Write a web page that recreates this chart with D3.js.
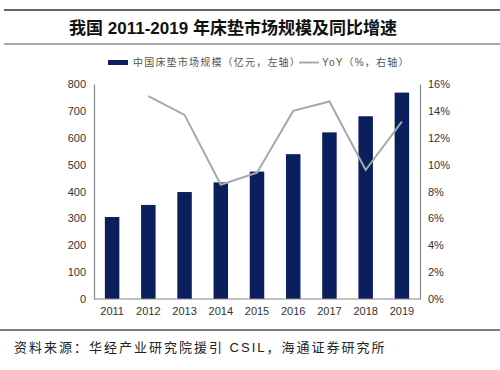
<!DOCTYPE html>
<html>
<head>
<meta charset="utf-8">
<script src="https://cdn.jsdelivr.net/npm/d3@7"></script>
<style>
  body { margin: 0; background: #fff; }
  svg { display: block; }
</style>
</head>
<body>
<div id="chart"></div>
<script>
const years = ["2011", "2012", "2013", "2014", "2015", "2016", "2017", "2018", "2019"];
const marketSize = [305, 350, 398, 434, 474, 539, 620, 680, 768];
const yoy = [null, 15.1, 13.7, 8.5, 9.4, 14.0, 14.7, 9.6, 13.2];
const leftTicks = [0, 100, 200, 300, 400, 500, 600, 700, 800];
const rightTicks = [0, 2, 4, 6, 8, 10, 12, 14, 16];

const width = 500;
const height = 370;
const plot = { left: 94, right: 420, top: 84, bottom: 299 };
const sansFont = "'Liberation Sans', Arial, sans-serif";
const mixFont = "'Liberation Sans', 'Noto Sans CJK SC', sans-serif";

const svg = d3.select("#chart")
  .append("svg")
  .attr("width", width)
  .attr("height", height);

// title block
svg.append("line")
  .attr("x1", 4).attr("x2", width).attr("y1", 10).attr("y2", 10)
  .attr("stroke", "#333").attr("stroke-width", 1.5);
svg.append("line")
  .attr("x1", 4).attr("x2", width).attr("y1", 44).attr("y2", 44)
  .attr("stroke", "#555").attr("stroke-width", 1.2);
svg.append("text")
  .attr("x", 233)
  .attr("y", 34)
  .attr("text-anchor", "middle")
  .style("font-family", mixFont)
  .style("font-size", "17px")
  .style("font-weight", "bold")
  .attr("fill", "#111")
  .text("我国 2011-2019 年床垫市场规模及同比增速");

const xScale = d3.scaleBand()
  .domain(years)
  .range([plot.left, plot.right])
  .paddingInner(0.6)
  .paddingOuter(0.3);

const yLeft = d3.scaleLinear()
  .domain([0, 800])
  .range([plot.bottom, plot.top]);

const yRight = d3.scaleLinear()
  .domain([0, 16])
  .range([plot.bottom, plot.top]);

// bars
svg.selectAll(".bar")
  .data(years)
  .enter()
  .append("rect")
  .attr("class", "bar")
  .attr("x", d => xScale(d))
  .attr("y", (d, i) => yLeft(marketSize[i]))
  .attr("width", xScale.bandwidth())
  .attr("height", (d, i) => plot.bottom - yLeft(marketSize[i]))
  .attr("fill", "#0b1f5e");

// yoy line
const line = d3.line()
  .defined(d => d.v != null)
  .x(d => xScale(d.year) + xScale.bandwidth() / 2)
  .y(d => yRight(d.v));

svg.append("path")
  .datum(years.map((y, i) => ({ year: y, v: yoy[i] })))
  .attr("d", line)
  .attr("fill", "none")
  .attr("stroke", "#a8a8a8")
  .attr("stroke-width", 2);

// axes
const leftAxis = svg.append("g")
  .attr("transform", `translate(${plot.left},0)`)
  .call(d3.axisLeft(yLeft).tickValues(leftTicks).tickSize(0).tickPadding(8));
const rightAxis = svg.append("g")
  .attr("transform", `translate(${plot.right},0)`)
  .call(d3.axisRight(yRight).tickValues(rightTicks).tickSize(0).tickPadding(8)
    .tickFormat(d => d + "%"));
const bottomAxis = svg.append("g")
  .attr("transform", `translate(0,${plot.bottom})`)
  .call(d3.axisBottom(xScale).tickSize(0).tickPadding(8));

[leftAxis, rightAxis, bottomAxis].forEach(g => {
  g.select(".domain").attr("stroke", "#888").attr("stroke-width", 1.2);
  g.selectAll("text")
    .style("font-family", sansFont)
    .style("font-size", "11px")
    .attr("fill", "#333");
});
bottomAxis.select(".domain").attr("d", `M${plot.left},0H${plot.right}`);

// legend
const legend = svg.append("g");
legend.append("rect")
  .attr("x", 108).attr("y", 60).attr("width", 20).attr("height", 5)
  .attr("fill", "#0b1f5e");
legend.append("text")
  .attr("x", 133).attr("y", 66)
  .style("font-family", mixFont)
  .style("font-size", "10px")
  .style("letter-spacing", "1.2px")
  .attr("fill", "#555")
  .text("中国床垫市场规模（亿元，左轴）");
legend.append("line")
  .attr("x1", 299).attr("x2", 319).attr("y1", 62.5).attr("y2", 62.5)
  .attr("stroke", "#a8a8a8").attr("stroke-width", 2);
legend.append("text")
  .attr("x", 322).attr("y", 66)
  .style("font-family", mixFont)
  .style("font-size", "10px")
  .style("letter-spacing", "1.2px")
  .attr("fill", "#555")
  .text("YoY（%，右轴）");

// source
svg.append("line")
  .attr("x1", 0).attr("x2", width).attr("y1", 330).attr("y2", 330)
  .attr("stroke", "#555").attr("stroke-width", 1.5);
svg.append("text")
  .attr("x", 14).attr("y", 352)
  .style("font-family", mixFont)
  .style("font-size", "13px")
  .style("letter-spacing", "2px")
  .attr("fill", "#222")
  .text("资料来源：华经产业研究院援引 CSIL，海通证券研究所");
</script>
</body>
</html>
